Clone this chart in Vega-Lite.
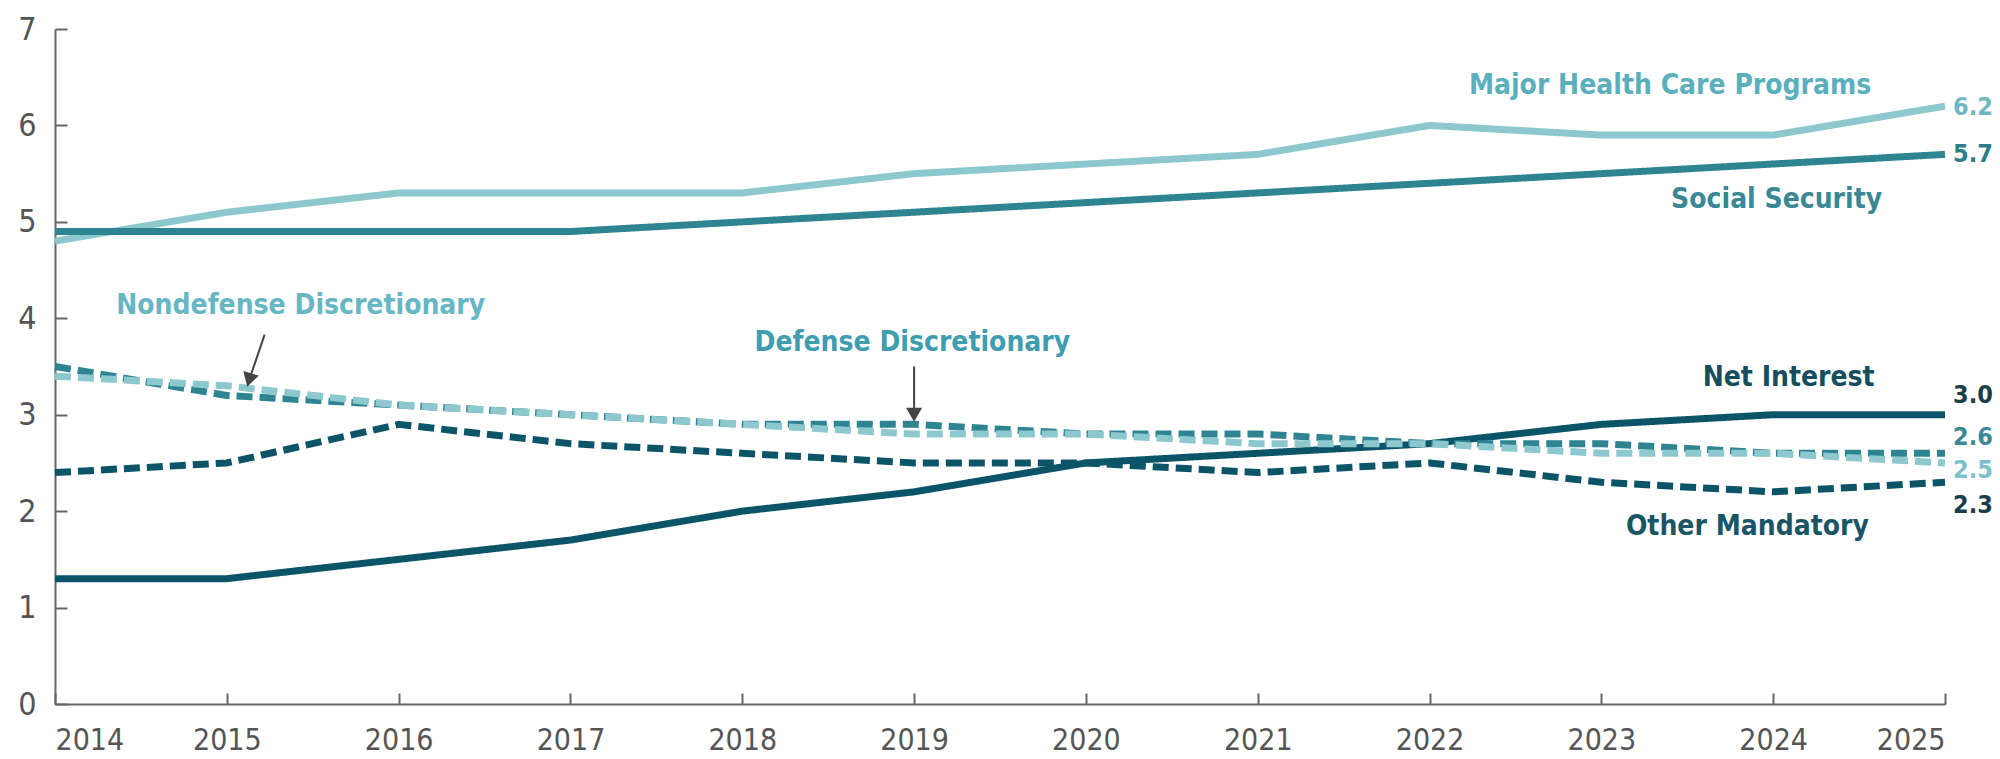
{
  "$schema": "https://vega.github.io/schema/vega-lite/v6.json",
  "autosize": "none",
  "width": 1890,
  "height": 675,
  "padding": {"left": 55, "top": 29, "right": 55, "bottom": 55},
  "background": "white",
  "config": {"view": {"stroke": null}, "font": "Liberation Sans Narrow, DejaVu Sans Condensed, sans-serif"},
  "datasets": {
    "series": [
      {"series": "Major Health Care Programs", "year": 2014, "value": 4.8},
      {"series": "Major Health Care Programs", "year": 2015, "value": 5.1},
      {"series": "Major Health Care Programs", "year": 2016, "value": 5.3},
      {"series": "Major Health Care Programs", "year": 2017, "value": 5.3},
      {"series": "Major Health Care Programs", "year": 2018, "value": 5.3},
      {"series": "Major Health Care Programs", "year": 2019, "value": 5.5},
      {"series": "Major Health Care Programs", "year": 2020, "value": 5.6},
      {"series": "Major Health Care Programs", "year": 2021, "value": 5.7},
      {"series": "Major Health Care Programs", "year": 2022, "value": 6.0},
      {"series": "Major Health Care Programs", "year": 2023, "value": 5.9},
      {"series": "Major Health Care Programs", "year": 2024, "value": 5.9},
      {"series": "Major Health Care Programs", "year": 2025, "value": 6.2},
      {"series": "Social Security", "year": 2014, "value": 4.9},
      {"series": "Social Security", "year": 2015, "value": 4.9},
      {"series": "Social Security", "year": 2016, "value": 4.9},
      {"series": "Social Security", "year": 2017, "value": 4.9},
      {"series": "Social Security", "year": 2018, "value": 5.0},
      {"series": "Social Security", "year": 2019, "value": 5.1},
      {"series": "Social Security", "year": 2020, "value": 5.2},
      {"series": "Social Security", "year": 2021, "value": 5.3},
      {"series": "Social Security", "year": 2022, "value": 5.4},
      {"series": "Social Security", "year": 2023, "value": 5.5},
      {"series": "Social Security", "year": 2024, "value": 5.6},
      {"series": "Social Security", "year": 2025, "value": 5.7},
      {"series": "Net Interest", "year": 2014, "value": 1.3},
      {"series": "Net Interest", "year": 2015, "value": 1.3},
      {"series": "Net Interest", "year": 2016, "value": 1.5},
      {"series": "Net Interest", "year": 2017, "value": 1.7},
      {"series": "Net Interest", "year": 2018, "value": 2.0},
      {"series": "Net Interest", "year": 2019, "value": 2.2},
      {"series": "Net Interest", "year": 2020, "value": 2.5},
      {"series": "Net Interest", "year": 2021, "value": 2.6},
      {"series": "Net Interest", "year": 2022, "value": 2.7},
      {"series": "Net Interest", "year": 2023, "value": 2.9},
      {"series": "Net Interest", "year": 2024, "value": 3.0},
      {"series": "Net Interest", "year": 2025, "value": 3.0},
      {"series": "Other Mandatory", "year": 2014, "value": 2.4},
      {"series": "Other Mandatory", "year": 2015, "value": 2.5},
      {"series": "Other Mandatory", "year": 2016, "value": 2.9},
      {"series": "Other Mandatory", "year": 2017, "value": 2.7},
      {"series": "Other Mandatory", "year": 2018, "value": 2.6},
      {"series": "Other Mandatory", "year": 2019, "value": 2.5},
      {"series": "Other Mandatory", "year": 2020, "value": 2.5},
      {"series": "Other Mandatory", "year": 2021, "value": 2.4},
      {"series": "Other Mandatory", "year": 2022, "value": 2.5},
      {"series": "Other Mandatory", "year": 2023, "value": 2.3},
      {"series": "Other Mandatory", "year": 2024, "value": 2.2},
      {"series": "Other Mandatory", "year": 2025, "value": 2.3},
      {"series": "Defense Discretionary", "year": 2014, "value": 3.5},
      {"series": "Defense Discretionary", "year": 2015, "value": 3.2},
      {"series": "Defense Discretionary", "year": 2016, "value": 3.1},
      {"series": "Defense Discretionary", "year": 2017, "value": 3.0},
      {"series": "Defense Discretionary", "year": 2018, "value": 2.9},
      {"series": "Defense Discretionary", "year": 2019, "value": 2.9},
      {"series": "Defense Discretionary", "year": 2020, "value": 2.8},
      {"series": "Defense Discretionary", "year": 2021, "value": 2.8},
      {"series": "Defense Discretionary", "year": 2022, "value": 2.7},
      {"series": "Defense Discretionary", "year": 2023, "value": 2.7},
      {"series": "Defense Discretionary", "year": 2024, "value": 2.6},
      {"series": "Defense Discretionary", "year": 2025, "value": 2.6},
      {"series": "Nondefense Discretionary", "year": 2014, "value": 3.4},
      {"series": "Nondefense Discretionary", "year": 2015, "value": 3.3},
      {"series": "Nondefense Discretionary", "year": 2016, "value": 3.1},
      {"series": "Nondefense Discretionary", "year": 2017, "value": 3.0},
      {"series": "Nondefense Discretionary", "year": 2018, "value": 2.9},
      {"series": "Nondefense Discretionary", "year": 2019, "value": 2.8},
      {"series": "Nondefense Discretionary", "year": 2020, "value": 2.8},
      {"series": "Nondefense Discretionary", "year": 2021, "value": 2.7},
      {"series": "Nondefense Discretionary", "year": 2022, "value": 2.7},
      {"series": "Nondefense Discretionary", "year": 2023, "value": 2.6},
      {"series": "Nondefense Discretionary", "year": 2024, "value": 2.6},
      {"series": "Nondefense Discretionary", "year": 2025, "value": 2.5}
    ],
    "names": [
      {"series": "Major Health Care Programs", "text": "Major Health Care Programs", "year": 2023.40, "value": 6.41},
      {"series": "Social Security", "text": "Social Security", "year": 2024.02, "value": 5.23},
      {"series": "Net Interest", "text": "Net Interest", "year": 2024.09, "value": 3.38},
      {"series": "Other Mandatory", "text": "Other Mandatory", "year": 2023.85, "value": 1.84},
      {"series": "Nondefense Discretionary", "text": "Nondefense Discretionary", "year": 2015.43, "value": 4.13},
      {"series": "Defense Discretionary", "text": "Defense Discretionary", "year": 2018.99, "value": 3.74}
    ],
    "ends": [
      {"series": "Major Health Care Programs", "text": "6.2", "year": 2025, "value": 6.19},
      {"series": "Social Security", "text": "5.7", "year": 2025, "value": 5.70},
      {"series": "Net Interest", "text": "3.0", "year": 2025, "value": 3.2},
      {"series": "Defense Discretionary", "text": "2.6", "year": 2025, "value": 2.77},
      {"series": "Nondefense Discretionary", "text": "2.5", "year": 2025, "value": 2.43},
      {"series": "Other Mandatory", "text": "2.3", "year": 2025, "value": 2.06}
    ],
    "arrows": [
      {"year": 2015.22, "value": 3.83, "year2": 2015.13, "value2": 3.36, "angle": 16},
      {"year": 2019.0, "value": 3.5, "year2": 2019.0, "value2": 3.0, "angle": 0}
    ]
  },
  "layer": [
    {
      "data": {"name": "series"},
      "mark": {"type": "line", "strokeWidth": 7, "strokeCap": "butt", "strokeJoin": "round"},
      "encoding": {
        "x": {
          "field": "year", "type": "quantitative",
          "scale": {"domain": [2014, 2025], "nice": false, "zero": false},
          "axis": {
            "title": null, "values": [2014,2015,2016,2017,2018,2019,2020,2021,2022,2023,2024,2025],
            "format": "d", "grid": false, "domainColor": "#666666", "domainWidth": 2,
            "tickColor": "#666666", "tickWidth": 2, "tickSize": -11,
            "labelFontSize": 30, "labelColor": "#555555", "labelPadding": 32,
            "labelFont": "Liberation Sans Narrow, DejaVu Sans Condensed, sans-serif"
          }
        },
        "y": {
          "field": "value", "type": "quantitative",
          "scale": {"domain": [0, 7], "nice": false},
          "axis": {
            "title": null, "values": [0,1,2,3,4,5,6,7], "format": "d", "grid": false,
            "domainColor": "#666666", "domainWidth": 2,
            "tickColor": "#666666", "tickWidth": 2, "tickSize": -12,
            "labelFontSize": 32, "labelColor": "#555555", "labelPadding": 31,
            "labelFont": "Liberation Sans Narrow, DejaVu Sans Condensed, sans-serif"
          }
        },
        "color": {
          "field": "series", "type": "nominal", "legend": null,
          "scale": {
            "domain": ["Major Health Care Programs", "Social Security", "Net Interest", "Other Mandatory", "Defense Discretionary", "Nondefense Discretionary"],
            "range": ["#8DC8CF", "#2E8591", "#0C5468", "#0C5468", "#2E8591", "#8DC8CF"]
          }
        },
        "strokeDash": {
          "field": "series", "type": "nominal", "legend": null,
          "scale": {
            "domain": ["Major Health Care Programs", "Social Security", "Net Interest", "Other Mandatory", "Defense Discretionary", "Nondefense Discretionary"],
            "range": [[1, 0], [1, 0], [1, 0], [16, 7], [16, 7], [16, 7]]
          }
        }
      }
    },
    {
      "data": {"name": "arrows"},
      "mark": {"type": "rule", "color": "#444444", "strokeWidth": 2},
      "encoding": {
        "x": {"field": "year", "type": "quantitative"},
        "y": {"field": "value", "type": "quantitative"},
        "x2": {"field": "year2"},
        "y2": {"field": "value2"}
      }
    },
    {
      "data": {"name": "arrows"},
      "mark": {"type": "point", "shape": "triangle-down", "filled": true, "color": "#444444", "size": 260, "opacity": 1},
      "encoding": {
        "x": {"field": "year2", "type": "quantitative"},
        "y": {"field": "value2", "type": "quantitative"},
        "angle": {"field": "angle", "type": "quantitative", "scale": null}
      }
    },
    {
      "data": {"name": "names"},
      "mark": {"type": "text", "fontSize": 28, "fontWeight": "bold", "baseline": "middle", "align": "center", "font": "Liberation Sans Narrow, DejaVu Sans Condensed, sans-serif"},
      "encoding": {
        "x": {"field": "year", "type": "quantitative"},
        "y": {"field": "value", "type": "quantitative"},
        "text": {"field": "text"},
        "color": {
          "field": "series", "type": "nominal", "legend": null,
          "scale": {
            "domain": ["Major Health Care Programs", "Social Security", "Net Interest", "Other Mandatory", "Defense Discretionary", "Nondefense Discretionary"],
            "range": ["#5BAFBD", "#3A8893", "#174E5E", "#1A5566", "#3F9DB0", "#66B7C3"]
          }
        }
      }
    },
    {
      "data": {"name": "ends"},
      "mark": {"type": "text", "fontSize": 25, "fontWeight": "bold", "baseline": "middle", "align": "left", "dx": 8, "font": "Liberation Sans Narrow, DejaVu Sans Condensed, sans-serif"},
      "encoding": {
        "x": {"field": "year", "type": "quantitative"},
        "y": {"field": "value", "type": "quantitative"},
        "text": {"field": "text"},
        "color": {
          "field": "series", "type": "nominal", "legend": null,
          "scale": {
            "domain": ["Major Health Care Programs", "Social Security", "Net Interest", "Other Mandatory", "Defense Discretionary", "Nondefense Discretionary"],
            "range": ["#6DB8C2", "#2E7D88", "#1A3E4A", "#1A3E4A", "#3A8A96", "#7CC1CA"]
          }
        }
      }
    }
  ],
  "resolve": {"scale": {"color": "independent"}}
}
